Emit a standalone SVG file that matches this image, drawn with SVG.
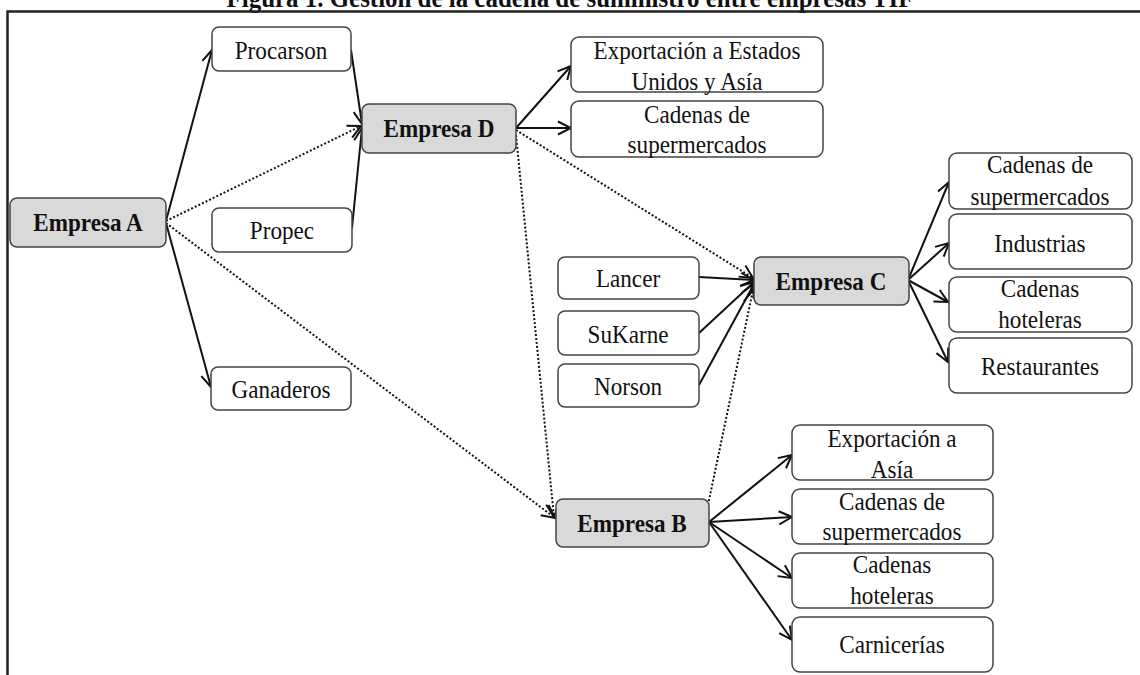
<svg xmlns="http://www.w3.org/2000/svg" width="1140" height="675" viewBox="0 0 1140 675">
<style>
.box{fill:#fff;stroke:#444;stroke-width:1.5}
.main{fill:#d9d9d9;stroke:#444;stroke-width:1.5}
.t{font-family:"Liberation Serif","Times New Roman",serif;font-size:26px;text-anchor:middle;fill:#111}
.b{font-weight:bold}
.ln{fill:none;stroke:#111;stroke-width:2;marker-end:url(#arr)}
.dt{fill:none;stroke:#111;stroke-width:2;stroke-dasharray:2 2;marker-end:url(#arr)}
.frame{fill:none;stroke:#222;stroke-width:2.5}
</style>
<defs>
<marker id="arr" viewBox="-16 -9 18 18" refX="0" refY="0" markerWidth="18" markerHeight="18" markerUnits="userSpaceOnUse" orient="auto">
<path d="M-13,-6.5 L0,0 L-13,6.5" fill="none" stroke="#111" stroke-width="2"/>
</marker>
</defs>
<rect width="1140" height="675" fill="#fff"/>
<text class="t b" transform="matrix(0.89 0 0 1 570 0)" x="0" y="7" style="font-size:28px">Figura 1. Gestión de la cadena de suministro entre empresas TIF</text>
<path class="frame" d="M1141,11.5 H7.5 V676"/>

<g id="connectors">
<path class="ln" d="M166,221 L212,50"/>
<path class="ln" d="M166,223 L211,387"/>
<path class="dt" d="M166,221 L361,126"/>
<path class="dt" d="M166,223 L555,518"/>
<path class="ln" d="M351,50 L362,124"/>
<path class="ln" d="M352,228 L362,128"/>
<path class="ln" d="M516,128 L571,66"/>
<path class="ln" d="M516,128 L571,128"/>
<path class="dt" d="M516,130 L753,278"/>
<path class="dt" d="M516,135 L554,517"/>
<path class="dt" d="M708,505 L753,290"/>
<path class="ln" d="M699,277 L754,280"/>
<path class="ln" d="M699,333 L754,282"/>
<path class="ln" d="M699,385 L754,284"/>
<path class="ln" d="M908,280 L949,182"/>
<path class="ln" d="M908,280 L949,243"/>
<path class="ln" d="M908,280 L948,302"/>
<path class="ln" d="M908,280 L948,362"/>
<path class="ln" d="M709,522 L792,455"/>
<path class="ln" d="M709,522 L792,517"/>
<path class="ln" d="M709,522 L792,578"/>
<path class="ln" d="M709,522 L792,640"/>
</g>

<g id="empresa-a"><rect class="main" x="10" y="198" width="156" height="49" rx="7"/><text class="t b" transform="matrix(0.89 0 0 1 88 0)" x="0" y="231">Empresa A</text></g>
<g id="procarson"><rect class="box" x="212" y="27" width="139" height="44" rx="7"/><text class="t" transform="matrix(0.89 0 0 1 281 0)" x="0" y="59">Procarson</text></g>
<g id="propec"><rect class="box" x="212" y="208" width="140" height="44" rx="7"/><text class="t" transform="matrix(0.89 0 0 1 282 0)" x="0" y="239">Propec</text></g>
<g id="ganaderos"><rect class="box" x="211" y="367" width="140" height="43" rx="7"/><text class="t" transform="matrix(0.89 0 0 1 281 0)" x="0" y="398">Ganaderos</text></g>
<g id="empresa-d"><rect class="main" x="362" y="104" width="154" height="49" rx="7"/><text class="t b" transform="matrix(0.89 0 0 1 439 0)" x="0" y="137">Empresa D</text></g>
<g id="d-exportacion"><rect class="box" x="571" y="37" width="252" height="55" rx="8"/><text class="t" transform="matrix(0.89 0 0 1 697 0)" x="0" y="59">Exportación a Estados</text><text class="t" transform="matrix(0.89 0 0 1 697 0)" x="0" y="90">Unidos y Asía</text></g>
<g id="d-cadenas"><rect class="box" x="571" y="101" width="252" height="56" rx="8"/><text class="t" transform="matrix(0.89 0 0 1 697 0)" x="0" y="123">Cadenas de</text><text class="t" transform="matrix(0.89 0 0 1 697 0)" x="0" y="153">supermercados</text></g>
<g id="lancer"><rect class="box" x="558" y="257" width="141" height="42" rx="7"/><text class="t" transform="matrix(0.89 0 0 1 628 0)" x="0" y="287">Lancer</text></g>
<g id="sukarne"><rect class="box" x="558" y="311" width="141" height="44" rx="7"/><text class="t" transform="matrix(0.89 0 0 1 628 0)" x="0" y="343">SuKarne</text></g>
<g id="norson"><rect class="box" x="558" y="364" width="141" height="43" rx="7"/><text class="t" transform="matrix(0.89 0 0 1 628 0)" x="0" y="395">Norson</text></g>
<g id="empresa-c"><rect class="main" x="754" y="257" width="155" height="48" rx="7"/><text class="t b" transform="matrix(0.89 0 0 1 831 0)" x="0" y="290">Empresa C</text></g>
<g id="c-cadenas"><rect class="box" x="949" y="153" width="183" height="56" rx="8"/><text class="t" transform="matrix(0.89 0 0 1 1040 0)" x="0" y="173">Cadenas de</text><text class="t" transform="matrix(0.89 0 0 1 1040 0)" x="0" y="205">supermercados</text></g>
<g id="c-industrias"><rect class="box" x="949" y="214" width="183" height="55" rx="8"/><text class="t" transform="matrix(0.89 0 0 1 1040 0)" x="0" y="252">Industrias</text></g>
<g id="c-hoteleras"><rect class="box" x="949" y="277" width="183" height="55" rx="8"/><text class="t" transform="matrix(0.89 0 0 1 1040 0)" x="0" y="297">Cadenas</text><text class="t" transform="matrix(0.89 0 0 1 1040 0)" x="0" y="328">hoteleras</text></g>
<g id="c-restaurantes"><rect class="box" x="949" y="338" width="183" height="55" rx="8"/><text class="t" transform="matrix(0.89 0 0 1 1040 0)" x="0" y="375">Restaurantes</text></g>
<g id="empresa-b"><rect class="main" x="556" y="499" width="153" height="48" rx="7"/><text class="t b" transform="matrix(0.89 0 0 1 632 0)" x="0" y="532">Empresa B</text></g>
<g id="b-exportacion"><rect class="box" x="792" y="425" width="201" height="55" rx="8"/><text class="t" transform="matrix(0.89 0 0 1 892 0)" x="0" y="447">Exportación a</text><text class="t" transform="matrix(0.89 0 0 1 892 0)" x="0" y="478">Asía</text></g>
<g id="b-cadenas"><rect class="box" x="792" y="489" width="201" height="55" rx="8"/><text class="t" transform="matrix(0.89 0 0 1 892 0)" x="0" y="510">Cadenas de</text><text class="t" transform="matrix(0.89 0 0 1 892 0)" x="0" y="540">supermercados</text></g>
<g id="b-hoteleras"><rect class="box" x="792" y="553" width="201" height="55" rx="8"/><text class="t" transform="matrix(0.89 0 0 1 892 0)" x="0" y="573">Cadenas</text><text class="t" transform="matrix(0.89 0 0 1 892 0)" x="0" y="604">hoteleras</text></g>
<g id="b-carnicerias"><rect class="box" x="792" y="617" width="201" height="55" rx="8"/><text class="t" transform="matrix(0.89 0 0 1 892 0)" x="0" y="653">Carnicerías</text></g>
</svg>
